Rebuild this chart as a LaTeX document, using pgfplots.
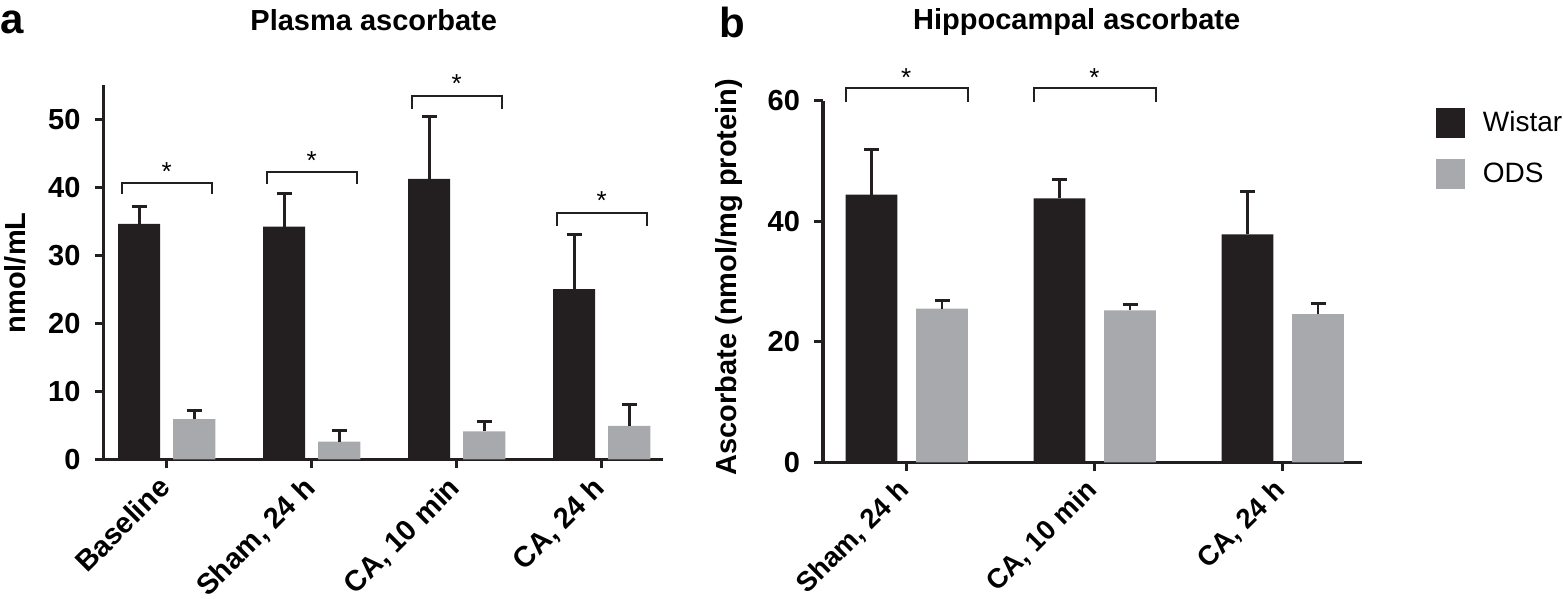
\documentclass[border=0pt]{standalone}
\usepackage{pgfplots}
\pgfplotsset{compat=1.18}
\usepackage{fontspec}
\setmainfont{Liberation Sans}
\definecolor{wistar}{HTML}{231F20}
\definecolor{ods}{HTML}{A7A9AC}
\newcommand{\lblfont}{\fontsize{14.5}{16}\selectfont\bfseries}
\tikzset{
  brk/.style={line width=1.1pt,color=wistar},
  star/.style={anchor=base,font=\fontsize{13}{13}\selectfont,inner sep=0pt},
}
\pgfplotsset{
  panel/.style={
    scale only axis,
    clip=false,
    ybar,
    axis x line*=bottom,
    axis y line*=left,
    axis line style={line width=1.75pt,-,color=wistar},
    every tick/.style={line width=1.5pt,color=wistar},
    major tick length=4.5pt,
    tick align=outside,
    ymin=0,
    enlargelimits=false,
    /pgf/number format/assume math mode=true,
    tick label style={font=\lblfont},
    yticklabel style={xshift=-3.5pt},
    xticklabel style={xshift=-5pt,yshift=-1.5pt,rotate=45,anchor=north east,inner sep=1pt},
    label style={font=\lblfont},
    title style={font=\lblfont},
    error bars/y dir=plus,
    error bars/y explicit,
    error bars/error bar style={line width=1.4pt,color=wistar},
    error bars/error mark options={rotate=90,line width=1.5pt,mark size=3.75pt,color=wistar},
  },
}
\begin{document}
\begin{tikzpicture}
\path[use as bounding box] (0,0) rectangle (781.5pt,-299.5pt);
\node[anchor=center,font=\fontsize{21}{21}\selectfont\bfseries] at (6pt,-11pt) {a};
\node[anchor=center,font=\fontsize{21}{21}\selectfont\bfseries] at (366pt,-11pt) {b};
% ---------------- panel a
\begin{axis}[panel,
  at={(51.75pt,-229.65pt)}, anchor=south west,
  width=279.75pt, height=187.15pt,
  xmin=-0.436, xmax=3.423, ymax=55,
  xtick={0,1,2,3},
  xticklabels={Baseline,{Sham, 24 h},{CA, 10 min},{CA, 24 h}},
  ytick={0,10,20,30,40,50},
  ylabel={nmol/mL},
  ylabel style={at={(rel axis cs:-0.158,0.498)},anchor=center,rotate=0},
  title={Plasma ascorbate},
  title style={at={(rel axis cs:0.483,1.142)},anchor=center},
  bar width=0.29,
]
\addplot[fill=wistar,draw=none,bar shift=-0.19] coordinates {
  (0,34.6) +- (0,2.5)
  (1,34.2) +- (0,4.8)
  (2,41.2) +- (0,9.1)
  (3,25.0) +- (0,8.0)
};
\addplot[fill=ods,draw=none,bar shift=0.19] coordinates {
  (0,5.9) +- (0,1.3)
  (1,2.6) +- (0,1.6)
  (2,4.1) +- (0,1.5)
  (3,4.9) +- (0,3.1)
};
\draw[line width=1.75pt,color=wistar] (rel axis cs:0,0) -- ++(-5pt,0);
% significance brackets
\draw[brk] (axis cs:-0.31,39.0) |- (axis cs:0.31,40.6) -- (axis cs:0.31,39.0);
\node[star] at (axis cs:0,40.9) {*};
\draw[brk] (axis cs:0.69,40.4) |- (axis cs:1.31,42.2) -- (axis cs:1.31,40.4);
\node[star] at (axis cs:1,42.6) {*};
\draw[brk] (axis cs:1.69,51.5) |- (axis cs:2.31,53.4) -- (axis cs:2.31,51.5);
\node[star] at (axis cs:2,53.9) {*};
\draw[brk] (axis cs:2.69,34.3) |- (axis cs:3.31,36.2) -- (axis cs:3.31,34.3);
\node[star] at (axis cs:3,36.7) {*};
\end{axis}
% ---------------- panel b
\begin{axis}[panel,
  at={(411.5pt,-231.15pt)}, anchor=south west,
  width=269.35pt, height=180.8pt,
  xmin=-0.443, xmax=2.422, ymax=60,
  xtick={0,1,2},
  xticklabels={{Sham, 24 h},{CA, 10 min},{CA, 24 h}},
  xticklabel style={font=\fontsize{13.8}{15}\selectfont\bfseries},
  ytick={0,20,40,60},
  ylabel={Ascorbate (nmol/mg protein)},
  ylabel style={at={(rel axis cs:-0.1745,0.512)},anchor=center,rotate=0},
  title={Hippocampal ascorbate},
  title style={at={(rel axis cs:0.471,1.185)},anchor=center},
  bar width=0.275,
  legend style={at={(rel axis cs:1.137,0.995)},anchor=north west,draw=none,fill=none,
    font=\fontsize{14}{16}\selectfont,row sep=6.5pt,inner sep=0pt,
    nodes={inner sep=4pt}},
  legend cell align=left,
  legend image code/.code={\fill[#1] (0pt,-7.5pt) rectangle (14.5pt,7.5pt);},
]
\addplot[fill=wistar,draw=none,bar shift=-0.185] coordinates {
  (0,44.4) +- (0,7.5)
  (1,43.8) +- (0,3.1)
  (2,37.8) +- (0,7.2)
};
\addlegendentry{\hspace{5pt}Wistar}
\addplot[fill=ods,draw=none,bar shift=0.19] coordinates {
  (0,25.5) +- (0,1.4)
  (1,25.2) +- (0,1.0)
  (2,24.6) +- (0,1.7)
};
\addlegendentry{\hspace{5pt}ODS}
\draw[line width=1.75pt,color=wistar] (rel axis cs:0,0) -- ++(-5pt,0);
\draw[brk] (axis cs:-0.32,59.75) |- (axis cs:0.33,62.07) -- (axis cs:0.33,59.75);
\node[star] at (axis cs:0,62.4) {*};
\draw[brk] (axis cs:0.68,59.75) |- (axis cs:1.33,62.07) -- (axis cs:1.33,59.75);
\node[star] at (axis cs:1,62.4) {*};
\end{axis}
\end{tikzpicture}
\end{document}
